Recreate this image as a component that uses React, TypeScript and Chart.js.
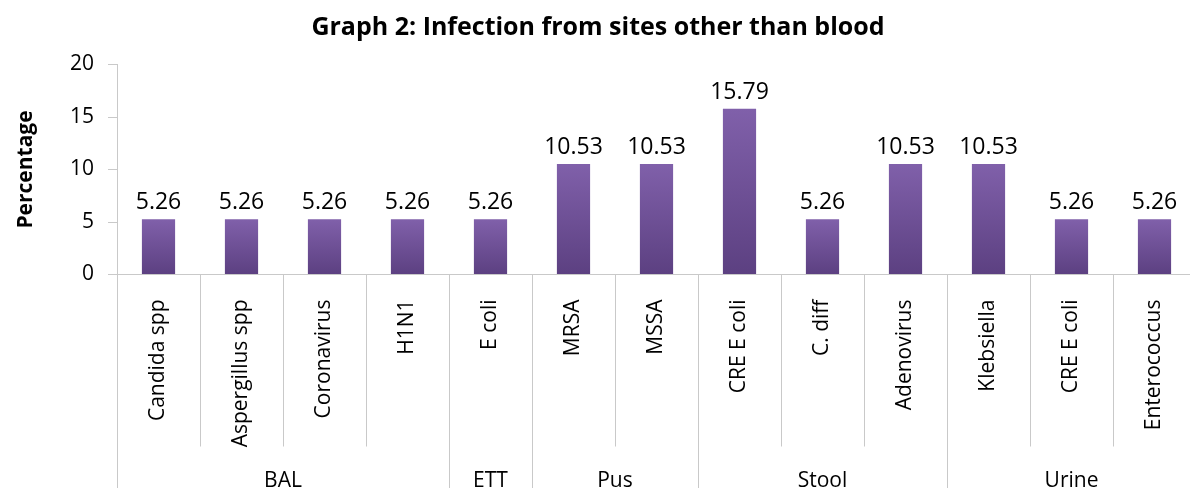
import React, { useEffect, useRef } from "react";
import { Chart, registerables } from "chart.js";

Chart.register(...registerables);

const chartTitle = "Graph 2: Infection from sites other than blood";
const yAxisTitle = "Percentage";
const categories = [
  "Candida spp",
  "Aspergillus spp",
  "Coronavirus",
  "H1N1",
  "E coli",
  "MRSA",
  "MSSA",
  "CRE E coli",
  "C. diff",
  "Adenovirus",
  "Klebsiella",
  "CRE E coli",
  "Enterococcus",
];
const groups = ["BAL", "BAL", "BAL", "BAL", "ETT", "Pus", "Pus", "Stool", "Stool", "Stool", "Urine", "Urine", "Urine"];
const values = [5.26, 5.26, 5.26, 5.26, 5.26, 10.53, 10.53, 15.79, 5.26, 10.53, 10.53, 5.26, 5.26];
const yMin = 0;
const yMax = 20;
const yStep = 5;

const FONT = "'Open Sans', sans-serif";
const GRID = "#C9C9C9";

const valueLabelPlugin = {
  id: "valueLabels",
  afterDatasetsDraw(chart: any) {
    const ctx = chart.ctx;
    const meta = chart.getDatasetMeta(0);
    ctx.save();
    ctx.font = `23px ${FONT}`;
    ctx.fillStyle = "#000";
    ctx.textAlign = "center";
    ctx.textBaseline = "alphabetic";
    meta.data.forEach((el: any, i: number) => {
      ctx.fillText(values[i].toFixed(2), el.x, el.y - 10);
    });
    ctx.restore();
  },
};

const groupAxisPlugin = {
  id: "groupAxis",
  afterDraw(chart: any) {
    const ctx = chart.ctx;
    const xs = chart.scales.x;
    const n = categories.length;
    const w = (xs.right - xs.left) / n;
    const top = chart.chartArea.bottom;
    const shortEnd = 446.5;
    const longEnd = chart.height;
    ctx.save();
    ctx.strokeStyle = GRID;
    ctx.lineWidth = 1;
    for (let i = 0; i <= n; i++) {
      const x = Math.round(xs.left + i * w) + 0.5;
      const long = i === 0 || i === n || groups[i] !== groups[i - 1];
      ctx.beginPath();
      ctx.moveTo(x, top);
      ctx.lineTo(x, long ? longEnd : shortEnd);
      ctx.stroke();
    }
    ctx.font = `21px ${FONT}`;
    ctx.fillStyle = "#000";
    ctx.textAlign = "center";
    ctx.textBaseline = "middle";
    let start = 0;
    for (let i = 1; i <= n; i++) {
      if (i === n || groups[i] !== groups[start]) {
        const cx = xs.left + ((start + i) / 2) * w;
        ctx.fillText(groups[start], cx, 481);
        start = i;
      }
    }
    ctx.restore();
  },
};

export default function App() {
  const ref = useRef<HTMLCanvasElement | null>(null);

  useEffect(() => {
    if (!ref.current) return;
    const chart = new Chart(ref.current, {
      type: "bar",
      data: {
        labels: categories,
        datasets: [
          {
            data: values,
            barPercentage: 0.4,
            categoryPercentage: 1.0,
            borderWidth: 0,
            backgroundColor: (c: any) => {
              const ch = c.chart;
              const ya = ch.scales && ch.scales.y;
              if (!ya || c.type !== "data") return "#6E4F97";
              const top = ya.getPixelForValue(values[c.dataIndex]);
              const bottom = ya.getPixelForValue(0);
              if (!isFinite(top) || !isFinite(bottom) || top === bottom) return "#6E4F97";
              const g = ch.ctx.createLinearGradient(0, top, 0, bottom);
              g.addColorStop(0, "#8060AA");
              g.addColorStop(1, "#5C4081");
              return g;
            },
          },
        ],
      },
      options: {
        responsive: false,
        animation: false,
        devicePixelRatio: 1,
        layout: { padding: { left: 0, right: 4, top: 0, bottom: 0 } },
        plugins: {
          legend: { display: false },
          tooltip: { enabled: false },
          title: {
            display: true,
            text: chartTitle,
            color: "#000",
            font: { family: FONT, size: 25, weight: "bold" },
            padding: { top: 13, bottom: 21.5 },
          },
        },
        scales: {
          x: {
            type: "category",
            grid: { display: false },
            border: { display: true, color: GRID },
            ticks: {
              autoSkip: false,
              minRotation: 90,
              maxRotation: 90,
              padding: 17,
              color: "#000",
              font: { family: FONT, size: 21 },
            },
            afterFit: (s: any) => {
              s.height = 213.5;
            },
          },
          y: {
            min: yMin,
            max: yMax,
            ticks: {
              stepSize: yStep,
              padding: 14,
              color: "#000",
              font: { family: FONT, size: 21 },
            },
            grid: { drawOnChartArea: false, drawTicks: true, tickLength: 9, color: GRID },
            border: { display: true, color: GRID },
            title: {
              display: true,
              text: yAxisTitle,
              color: "#000",
              font: { family: FONT, size: 21, weight: "bold" },
              padding: { top: 13, bottom: 0 },
            },
            afterFit: (s: any) => {
              s.width = 117;
            },
          },
        },
      },
      plugins: [valueLabelPlugin, groupAxisPlugin],
    });
    return () => chart.destroy();
  }, []);

  return (
    <div
      style={{
        position: "fixed",
        left: 0,
        top: 0,
        width: 1190,
        height: 488,
        overflow: "hidden",
        background: "#fff",
      }}
    >
      <canvas ref={ref} width={1200} height={488} style={{ display: "block" }} />
    </div>
  );
}
